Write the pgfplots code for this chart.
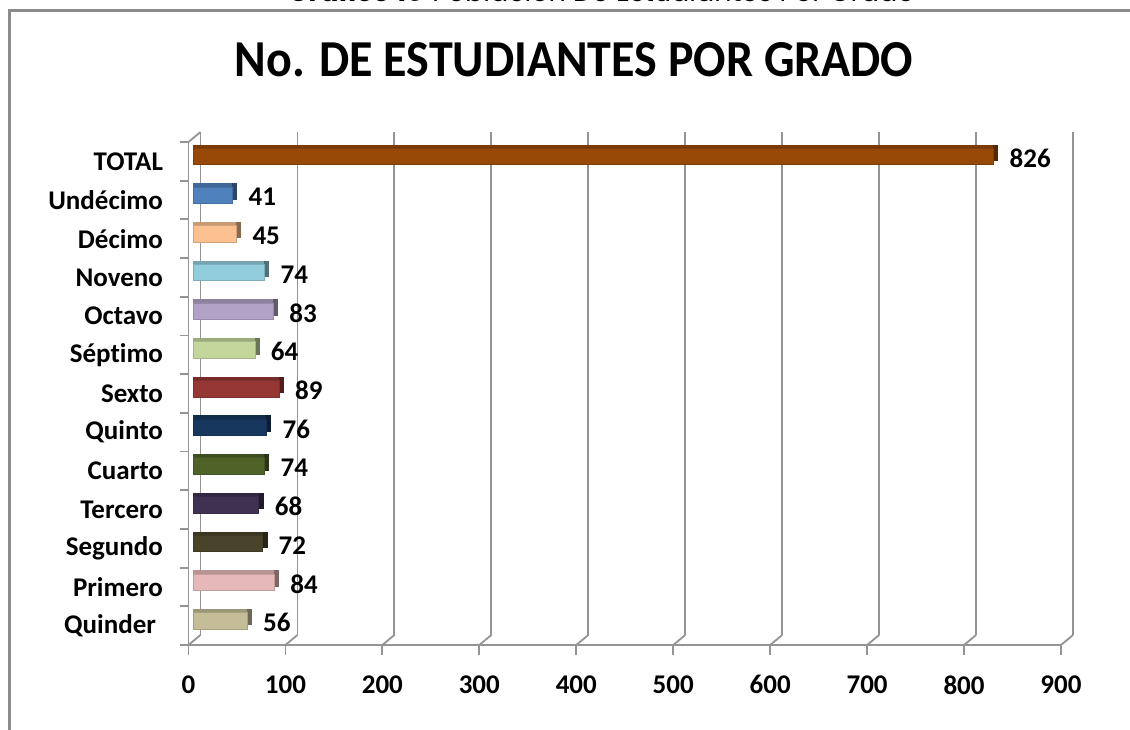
\documentclass[border=0pt]{standalone}
\usepackage{pgfplots}
\pgfplotsset{compat=1.18}
\usepackage{fontspec}
\usepackage{graphicx}
\setmainfont{Carlito}[Ligatures={NoCommon}]
\newfontfamily\capfont{Poppins}
\definecolor{gridc}{HTML}{949494}
\definecolor{framec}{HTML}{8C8C8C}
\definecolor{cTotal}{HTML}{984807}
\definecolor{cUnd}{HTML}{4F81BD}
\definecolor{cDec}{HTML}{FAC090}
\definecolor{cNov}{HTML}{92CDDC}
\definecolor{cOct}{HTML}{B3A2C7}
\definecolor{cSep}{HTML}{C3D69B}
\definecolor{cSex}{HTML}{953735}
\definecolor{cQui}{HTML}{17375E}
\definecolor{cCua}{HTML}{4F6228}
\definecolor{cTer}{HTML}{3F3151}
\definecolor{cSeg}{HTML}{494429}
\definecolor{cPri}{HTML}{E6B9B8}
\definecolor{cQdr}{HTML}{C4BD97}
\newcommand{\tdbar}[3]{%
  \addplot[xbar, bar width=16.5pt, bar shift=0pt, fill=#1!55!black, draw=none,
    xshift=9.2pt, yshift=8.5pt, forget plot] coordinates {(#2,#3)};
  \addplot[xbar, bar width=16.5pt, bar shift=0pt, fill=#1!80!black, draw=none,
    xshift=4.2pt, yshift=8.5pt, forget plot] coordinates {(#2,#3)};
  \addplot[xbar, bar width=16.5pt, bar shift=0pt, fill=#1, draw=#1!85!black, line width=0.4pt,
    xshift=4.2pt, yshift=5pt, nodes near coords,
    nodes near coords style={anchor=west, inner sep=0pt, xshift=16pt, yshift=-2pt, text=black,
      font=\fontsize{27}{32}\selectfont\bfseries}] coordinates {(#2,#3)};
}
\begin{document}
\begin{tikzpicture}
\useasboundingbox (0,0) rectangle (1130pt,730pt);
\fill[white] (0,0) rectangle (1130pt,730pt);
% caption (cut at top, as in the source)
\node[anchor=base, inner sep=0pt] at (602pt,728pt) {\capfont\fontsize{27}{32}\selectfont\textbf{\textit{Gráfico 10}} Población De Estudiantes Por Grado};
% frame
\draw[framec, line width=3pt] (9.5pt,-10pt) -- (9.5pt,719.3pt) -- (1140pt,719.3pt);
% title
\node[anchor=base, inner sep=0pt] at (574pt,653pt) {\scalebox{1}[1.08]{\fontsize{48}{56}\selectfont\bfseries No. DE ESTUDIANTES POR GRADO}};
\begin{axis}[
  at={(188.5pt,85pt)}, anchor=south west,
  scale only axis, width=872.5pt, height=503pt,
  xmin=0, xmax=900, ymin=0, ymax=13,
  clip=false,
  axis x line*=bottom, axis y line*=left,
  axis line style={gridc, line width=1.8pt},
  xtick={0,100,...,900},
  ytick={0.5,1.5,...,12.5},
  yticklabels={Quinder\hspace*{7pt}\null,Primero,Segundo,Tercero,Cuarto,Quinto,Sexto,Séptimo,Octavo,Noveno,Décimo,Undécimo,TOTAL},
  minor ytick={0,1,...,13},
  tick align=outside,
  major tick length=10pt, minor tick length=9pt,
  tick style={gridc, line width=1.8pt},
  every major y tick/.append style={draw=none},
  xmajorgrids,
  grid style={gridc, line width=1.8pt, xshift=12pt, yshift=10pt},
  ticklabel style={font=\fontsize{27}{32}\selectfont\bfseries, text=black},
  xticklabel style={yshift=-17pt},
  yticklabel style={anchor=east, xshift=-12pt},
  /pgf/number format/assume math mode=true,
  /pgf/number format/1000 sep={},
]
\pgfplotsinvokeforeach{0,100,200,300,400,500,600,700,800,900}{
  \draw[gridc, line width=1.8pt] (axis cs:#1,0) -- ++(12pt,10pt);
}
\draw[gridc, line width=1.8pt] (axis cs:0,13) -- ++(12pt,10pt);
\tdbar{cQdr}{56}{0.5}
\tdbar{cPri}{84}{1.5}
\tdbar{cSeg}{72}{2.5}
\tdbar{cTer}{68}{3.5}
\tdbar{cCua}{74}{4.5}
\tdbar{cQui}{76}{5.5}
\tdbar{cSex}{89}{6.5}
\tdbar{cSep}{64}{7.5}
\tdbar{cOct}{83}{8.5}
\tdbar{cNov}{74}{9.5}
\tdbar{cDec}{45}{10.5}
\tdbar{cUnd}{41}{11.5}
\tdbar{cTotal}{826}{12.5}
\end{axis}
\end{tikzpicture}
\end{document}
